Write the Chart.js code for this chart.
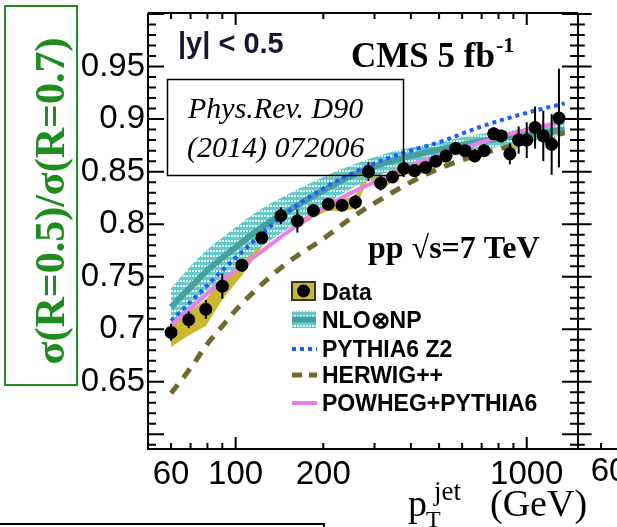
<!DOCTYPE html>
<html><head><meta charset="utf-8">
<script src="https://cdn.jsdelivr.net/npm/chart.js@4.4.0/dist/chart.umd.min.js"></script>
<style>html,body{margin:0;padding:0;background:#fff;}canvas{display:block;}</style>
</head><body>
<canvas id="c" width="617" height="527"></canvas>
<script>
// ---- data ----
const ptBins  = [60,69,79,90,105,123,143,163,185,208,232,258,286,315,346,378,412,449,487,528,570,614,663,714,770,818,875,938,1000,1068,1140,1218,1290];
const ratio   = [0.697,0.709,0.719,0.741,0.761,0.787,0.808,0.803,0.813,0.819,0.818,0.821,0.850,0.839,0.845,0.853,0.851,0.854,0.860,0.865,0.872,0.870,0.865,0.870,0.886,0.884,0.867,0.880,0.880,0.892,0.884,0.876,0.901];
const statErr = [0.008,0.008,0.009,0.012,0.006,0.005,0.008,0.011,0.005,0.005,0.005,0.007,0.009,0.007,0.005,0.008,0.005,0.005,0.005,0.006,0.006,0.005,0.006,0.006,0.006,0.006,0.010,0.013,0.017,0.020,0.024,0.029,0.047];
const sysUp   = [0.008,0.008,0.009,0.010,0.009,0.008,0.008,0.007,0.007,0.006,0.006,0.006,0.006,0.006,0.005,0.005,0.005,0.005,0.005,0.005,0.005,0.005,0.005,0.005,0.005,0.005,0.005,0.005,0.006,0.006,0.006,0.007,0.008];
const sysDn   = [0.014,0.015,0.016,0.013,0.010,0.009,0.008,0.007,0.007,0.006,0.006,0.006,0.006,0.006,0.005,0.005,0.005,0.005,0.005,0.005,0.005,0.005,0.005,0.005,0.005,0.005,0.005,0.005,0.006,0.006,0.006,0.007,0.008];

const theoryPt   = [60,70,80,90,100,120,150,200,250,300,400,500,700,1000,1350];
const nloCentral = [0.721,0.740,0.756,0.768,0.778,0.795,0.812,0.832,0.846,0.855,0.865,0.871,0.879,0.885,0.890];
const nloUp      = [0.739,0.760,0.776,0.787,0.797,0.813,0.828,0.845,0.856,0.864,0.873,0.878,0.886,0.891,0.896];
const nloDn      = [0.706,0.722,0.737,0.749,0.759,0.777,0.795,0.818,0.834,0.845,0.856,0.863,0.871,0.878,0.885];
const pythia     = [0.708,0.726,0.742,0.756,0.768,0.788,0.811,0.834,0.848,0.858,0.870,0.878,0.893,0.906,0.915];
const herwig     = [0.639,0.663,0.686,0.703,0.718,0.740,0.763,0.786,0.806,0.820,0.840,0.853,0.867,0.878,0.887];
const powheg     = [0.704,0.720,0.734,0.747,0.756,0.772,0.792,0.815,0.830,0.840,0.856,0.865,0.878,0.890,0.898];

const xTickLabels = [60,100,200,1000];
const yTickLabels = [0.65,0.7,0.75,0.8,0.85,0.9,0.95];
const xMinorTicks = [60,70,80,90,200,300,400,500,600,700,800,900];
const xMajorTicks = [100,1000];
const legendNames = ['Data','NLO\u2297NP','PYTHIA6 Z2','HERWIG++','POWHEG+PYTHIA6'];

// ---- styles ----
const C_SYS='#cbb832', C_NLO='#45a0a0', C_PY='#1f5cff', C_HW='#6f6a2c', C_PW='#ea7fea', GREEN='#1f8c1f';
const SANS='"Liberation Sans", Arial, sans-serif', SERIF='"Liberation Serif", "Times New Roman", serif';

const canvas=document.getElementById('c');
const ctx0=canvas.getContext('2d');
const tile=document.createElement('canvas'); tile.width=6; tile.height=5;
const tg=tile.getContext('2d');
tg.fillStyle='#66c8c8'; tg.fillRect(0,0,6,5);
tg.fillStyle='rgba(235,255,255,0.9)'; tg.fillRect(0,0,2,2); tg.fillRect(3,0,2,2);
const nloPattern=ctx0.createPattern(tile,'repeat');

const pts=(xs,ys)=>xs.map((x,i)=>({x,y:ys[i]}));

const datasets=[
 {label:'sysDn',data:pts(ptBins,ratio.map((v,i)=>v-sysDn[i])),borderWidth:0,pointRadius:0,fill:false,order:10,tension:0},
 {label:'sysUp',data:pts(ptBins,ratio.map((v,i)=>v+sysUp[i])),borderWidth:0,pointRadius:0,fill:0,backgroundColor:C_SYS,order:9,tension:0},
 {label:'nloDn',data:pts(theoryPt,nloDn),borderWidth:0,pointRadius:0,fill:false,order:8,cubicInterpolationMode:'monotone'},
 {label:'nloUp',data:pts(theoryPt,nloUp),borderWidth:0,pointRadius:0,fill:2,backgroundColor:nloPattern,order:7,cubicInterpolationMode:'monotone'},
 {label:legendNames[1],data:pts(theoryPt,nloCentral),borderColor:C_NLO,borderWidth:6,pointRadius:0,fill:false,order:6,cubicInterpolationMode:'monotone'},
 {label:legendNames[2],data:pts(theoryPt,pythia),borderColor:C_PY,borderWidth:4,borderDash:[4,4],pointRadius:0,fill:false,order:5,cubicInterpolationMode:'monotone'},
 {label:legendNames[3],data:pts(theoryPt,herwig),borderColor:C_HW,borderWidth:5,borderDash:[11,9],pointRadius:0,fill:false,order:4,cubicInterpolationMode:'monotone'},
 {label:legendNames[4],data:pts(theoryPt,powheg),borderColor:C_PW,borderWidth:4,pointRadius:0,fill:false,order:3,cubicInterpolationMode:'monotone'},
 {label:legendNames[0],data:pts(ptBins,ratio),showLine:false,pointRadius:6.5,pointBackgroundColor:'#000',pointBorderWidth:0,order:0}
];

const deco={
 id:'deco',
 beforeDatasetDraw(chart,args){
  if(args.index!==8) return;
  const c=chart.ctx,xs=chart.scales.x,ys=chart.scales.y,a=chart.chartArea;
  c.save(); c.beginPath(); c.rect(a.left,a.top,a.right-a.left,a.bottom-a.top); c.clip();
  c.strokeStyle='#000'; c.lineWidth=2;
  ptBins.forEach((p,i)=>{
   const x=xs.getPixelForValue(p);
   c.beginPath(); c.moveTo(x,ys.getPixelForValue(ratio[i]-statErr[i])); c.lineTo(x,ys.getPixelForValue(ratio[i]+statErr[i])); c.stroke();
  });
  c.restore();
 },
 afterDraw(chart){
  const c=chart.ctx,xs=chart.scales.x,ys=chart.scales.y,a=chart.chartArea;
  const L=a.left,R=a.right,T=a.top,B=a.bottom;
  c.save();
  c.strokeStyle='#000'; c.lineWidth=2;
  c.beginPath(); c.moveTo(L,T); c.lineTo(R,T); c.moveTo(L,T); c.lineTo(L,B); c.lineTo(617,B); c.moveTo(R,T); c.lineTo(R,B); c.stroke();
  const xt=(v,len)=>{const x=xs.getPixelForValue(v); c.beginPath(); c.moveTo(x,B); c.lineTo(x,B-len); c.moveTo(x,T); c.lineTo(x,T+len); c.stroke();};
  xMinorTicks.forEach(v=>xt(v,6)); xMajorTicks.forEach(v=>xt(v,12));
  const nx=R+(xs.getPixelForValue(60)-L);
  c.beginPath(); c.moveTo(nx,B); c.lineTo(nx,B-6); c.stroke();
  for(let k=59;k<=100;k++){
   const v=k/100, y=ys.getPixelForValue(v), major=(k%5===0), len=major?16:8;
   c.beginPath(); c.moveTo(L,y); c.lineTo(L+len,y); c.moveTo(R-len,y); c.lineTo(R+len*0.85,y); c.stroke();
  }
  c.restore();

  c.save(); c.fillStyle='#000'; c.font='33px '+SANS; c.textAlign='center'; c.textBaseline='alphabetic';
  c.fillText('60',nx+8,481); c.restore();

  c.save(); c.strokeStyle=GREEN; c.lineWidth=2; c.strokeRect(5,6,72,379);
  c.translate(64,201); c.rotate(-Math.PI/2);
  c.fillStyle=GREEN; c.font='bold 42px '+SERIF; c.textAlign='center'; c.textBaseline='alphabetic';
  c.fillText('\u03c3(R=0.5)/\u03c3(R=0.7)',0,0); c.restore();

  c.save(); c.fillStyle='#000'; c.textBaseline='alphabetic';
  c.font='38px '+SERIF; c.fillText('p',408,516);
  c.font='24px '+SERIF; c.fillText('T',426,527);
  c.font='27px '+SERIF; c.fillText('jet',434,500);
  c.font='38px '+SERIF; c.fillText('(GeV)',490,516);
  c.restore();

  c.save(); c.textBaseline='alphabetic';
  c.fillStyle='#161630'; c.font='bold 29px '+SANS; c.fillText('|y| < 0.5',178,53);
  c.fillStyle='#000'; c.font='bold 35px '+SERIF; c.fillText('CMS 5 fb',351,67);
  const w=c.measureText('CMS 5 fb').width; c.font='bold 22px '+SERIF; c.fillText('-1',351+w+1,52);
  c.font='bold 32px '+SERIF; c.fillText('pp \u221as=7 TeV',368,258);
  c.font='italic 30px '+SERIF; c.fillText('Phys.Rev. D90',188,118); c.fillText('(2014) 072006',187,157);
  c.lineWidth=1.5; c.strokeStyle='#000'; c.strokeRect(167.5,79.5,236,96);
  c.lineWidth=2; c.beginPath(); c.moveTo(0,524); c.lineTo(324,524); c.lineTo(324,527); c.stroke();
  c.restore();

  c.save();
  const lx=292, tx=322, base=[300,328,357,383,411];
  c.fillStyle=C_SYS; c.fillRect(lx,282,23,18); c.strokeStyle='#333'; c.lineWidth=2; c.strokeRect(lx,282,23,18);
  c.fillStyle='#000'; c.beginPath(); c.arc(lx+11.5,291,6.5,0,Math.PI*2); c.fill();
  c.fillStyle=nloPattern; c.fillRect(lx,311,24,17); c.fillStyle=C_NLO; c.fillRect(lx,316.5,24,6);
  c.lineWidth=4; c.strokeStyle=C_PY; c.setLineDash([4,4]); c.beginPath(); c.moveTo(lx,349); c.lineTo(lx+25,349); c.stroke();
  c.lineWidth=5; c.strokeStyle=C_HW; c.setLineDash([10,7]); c.beginPath(); c.moveTo(lx,375); c.lineTo(lx+25,375); c.stroke();
  c.setLineDash([]); c.lineWidth=4; c.strokeStyle=C_PW; c.beginPath(); c.moveTo(lx,403); c.lineTo(lx+25,403); c.stroke();
  c.fillStyle='#000'; c.font='bold 23px '+SANS; c.textBaseline='alphabetic';
  legendNames.forEach((n,i)=>c.fillText(n,tx,base[i]));
  c.restore();
 }
};

new Chart(canvas,{
 type:'line',
 data:{datasets},
 options:{
  responsive:false, animation:false, devicePixelRatio:1,
  layout:{padding:{left:0,right:39,top:13,bottom:0}},
  plugins:{legend:{display:false},tooltip:{enabled:false},filler:{propagate:false}},
  scales:{
   x:{type:'logarithmic',min:50,max:1500,position:'bottom',
      afterFit:s=>{s.height=78; s.paddingLeft=0; s.paddingRight=0;},
      afterBuildTicks:s=>{s.ticks=xTickLabels.map(v=>({value:v}));},
      ticks:{autoSkip:false,maxRotation:0,minRotation:0,padding:6,color:'#000',font:{family:SANS,size:33},callback:v=>String(v)},
      grid:{display:false,drawTicks:false},border:{display:false}},
   y:{type:'linear',min:0.586,max:1.001,
      afterFit:s=>{s.width=148; s.paddingTop=0; s.paddingBottom=0;},
      afterBuildTicks:s=>{s.ticks=yTickLabels.map(v=>({value:v}));},
      ticks:{padding:3,color:'#000',font:{family:SANS,size:33},callback:v=>String(Math.round(v*100)/100)},
      grid:{display:false,drawTicks:false},border:{display:false}}
  }
 },
 plugins:[deco]
});
</script>
</body></html>
